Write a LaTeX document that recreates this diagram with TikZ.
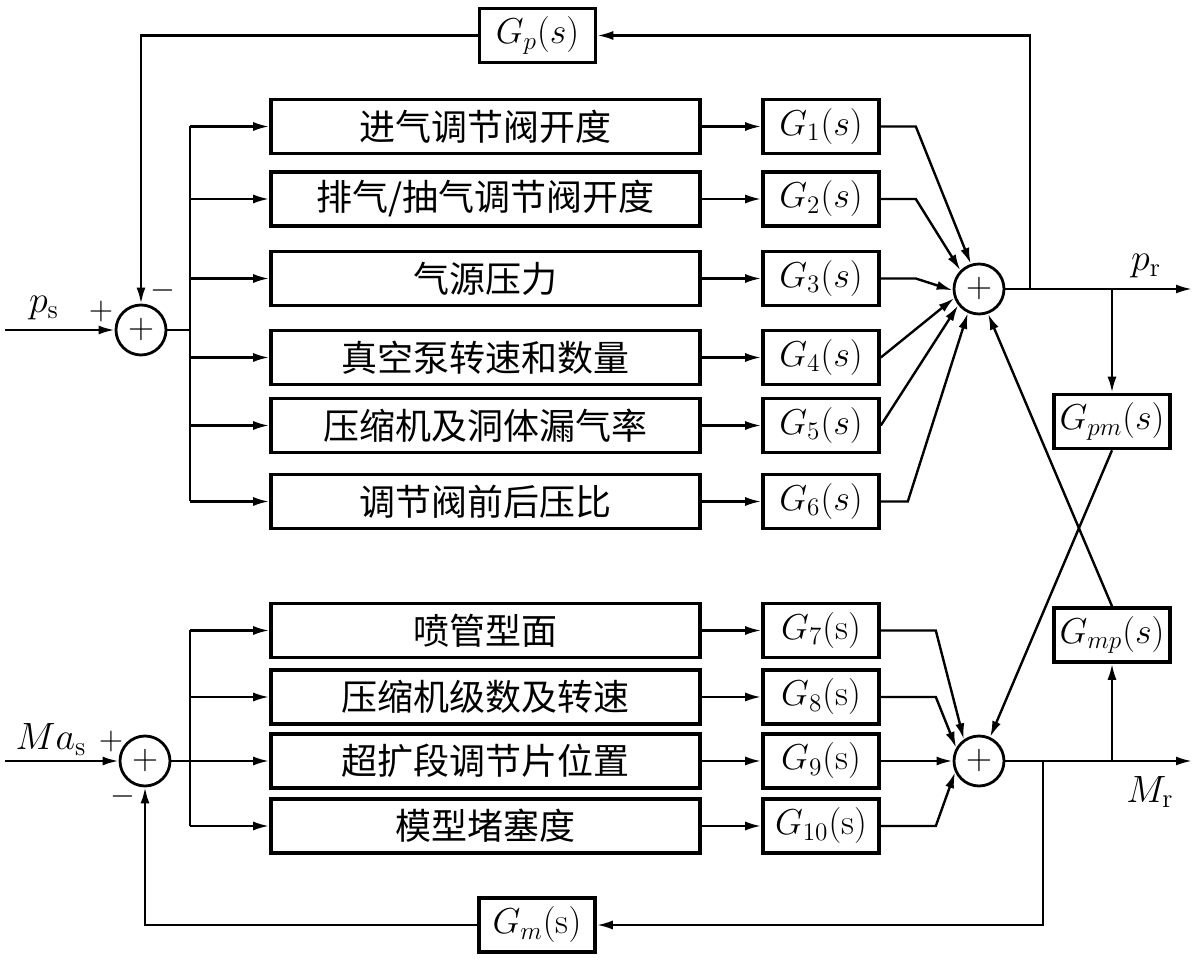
\RequirePackage{fix-cm}
\documentclass[tikz,border=0pt]{standalone}
\usepackage{fontspec}
\newfontfamily\cjk{Noto Sans CJK SC}
\usetikzlibrary{arrows.meta}
\begin{document}
\begin{tikzpicture}[x=0.5pt,y=-0.5pt,
  big/.style={draw,line width=1.8pt,minimum width=214.5pt,minimum height=27pt,inner sep=0pt,font=\cjk\fontsize{18}{20}\selectfont},
  gb/.style={draw,line width=1.8pt,minimum width=58pt,minimum height=27pt,inner sep=0pt,font=\fontsize{18}{20}\selectfont},
  sumn/.style={draw,circle,line width=1.4pt,minimum size=25pt,inner sep=0pt,font=\fontsize{18}{20}\selectfont},
  wire/.style={line width=1.2pt},
  arr/.style={wire,-{Latex[length=8pt,width=4.5pt]}},
  lbl/.style={font=\fontsize{19}{21}\selectfont,inner sep=0pt},
  sgn/.style={font=\fontsize{16}{18}\selectfont,inner sep=0pt}]
\useasboundingbox (0,0) rectangle (1200,961);

% summing junctions
\node[sumn] (s1) at (141,330) {$+$};
\node[sumn] (s2) at (979,289) {$+$};
\node[sumn] (s3) at (145,761) {$+$};
\node[sumn] (s4) at (979,761) {$+$};

% upper boxes
\node[big] (b1) at (485.5,126.5) {进气调节阀开度};
\node[big] (b2) at (485.5,199) {排气/抽气调节阀开度};
\node[big] (b3) at (485.5,278.5) {气源压力};
\node[big] (b4) at (485.5,357.5) {真空泵转速和数量};
\node[big] (b5) at (485.5,425.5) {压缩机及洞体漏气率};
\node[big] (b6) at (485.5,501.5) {调节阀前后压比};
\node[gb] (g1) at (821,126.5) {$G_1(s)$};
\node[gb] (g2) at (821,199) {$G_2(s)$};
\node[gb] (g3) at (821,278.5) {$G_3(s)$};
\node[gb] (g4) at (821,357.5) {$G_4(s)$};
\node[gb] (g5) at (821,425.5) {$G_5(s)$};
\node[gb] (g6) at (821,501.5) {$G_6(s)$};

% lower boxes
\node[big] (b7) at (485.5,630.5) {喷管型面};
\node[big] (b8) at (485.5,697) {压缩机级数及转速};
\node[big] (b9) at (485.5,761) {超扩段调节片位置};
\node[big] (b10) at (485.5,826) {模型堵塞度};
\node[gb] (g7) at (821,630.5) {$G_7(\mathrm{s})$};
\node[gb] (g8) at (821,697) {$G_8(\mathrm{s})$};
\node[gb] (g9) at (821,761) {$G_9(\mathrm{s})$};
\node[gb] (g10) at (821,826) {$G_{10}(\mathrm{s})$};

% feedback / cross boxes
\node[gb] (gp) at (537.5,35.5) {$G_p(s)$};
\node[gb] (gpm) at (1112,421.5) {$G_{pm}(s)$};
\node[gb] (gmp) at (1112,635) {$G_{mp}(s)$};
\node[gb] (gm) at (537,925) {$G_m(\mathrm{s})$};

% coordinates
\coordinate (busx) at (190,0);
\coordinate (pin) at (5,330);
\coordinate (min) at (5,761);
\coordinate (prend) at (1192,289);
\coordinate (mrend) at (1192,761);
\coordinate (j1) at (1030,289);
\coordinate (j2) at (1112,289);
\coordinate (j3) at (1043,761);
\coordinate (j4) at (1112,761);

% upper loop
\draw[arr] (pin) -- (s1.west);
\draw[wire] (s1.east) -- (s1.east -| busx);
\draw[wire] (b1.west -| busx) -- (b6.west -| busx);
\foreach \i in {1,...,6}{
  \draw[arr] (b\i.west -| busx) -- (b\i.west);
  \draw[arr] (b\i.east) -- (g\i.west);
}
\draw[arr] (g1.east) -- ++(35,0) -- (s2.108);
\draw[arr] (g2.east) -- ++(35,0) -- (s2.135);
\draw[arr] (g3.east) -- ++(35,0) -- (s2.183);
\draw[arr] (g4.east) -- (s2.200);
\draw[arr] (g5.east) -- (s2.218);
\draw[arr] (g6.east) -- ++(27,0) -- (s2.245);
\draw[arr] (s2.east) -- (prend);
\draw[arr] (j1) |- (gp.east);
\draw[arr] (gp.west) -| (s1.north);
\draw[arr] (j2) -- (gpm.north);

% lower loop
\draw[arr] (min) -- (s3.west);
\draw[arr] (s3.east) -- (b9.west);
\draw[wire] (b7.west -| busx) -- (b10.west -| busx);
\foreach \i in {7,8,10}{
  \draw[arr] (b\i.west -| busx) -- (b\i.west);
}
\foreach \i in {7,...,10}{
  \draw[arr] (b\i.east) -- (g\i.west);
}
\draw[arr] (g7.east) -- ++(55,0) -- (s4.125);
\draw[arr] (g8.east) -- ++(55,0) -- (s4.150);
\draw[arr] (g9.east) -- (s4.west);
\draw[arr] (g10.east) -- ++(55,0) -- (s4.205);
\draw[arr] (s4.east) -- (mrend);
\draw[arr] (j3) |- (gm.east);
\draw[arr] (gm.west) -| (s3.south);
\draw[arr] (j4) -- (gmp.south);

% cross couplings
\draw[arr] (gpm.south) -- (s4.65);
\draw[arr] (gmp.north) -- (s2.290);

% labels
\node[lbl] (lps) at (44,308) {$p_{\mathrm{s}}$};
\node[sgn] (lp1) at (101,312) {$+$};
\node[sgn] (lm1) at (163,291) {$-$};
\node[lbl] (lma) at (51,740) {$Ma_{\mathrm{s}}$};
\node[sgn] (lp2) at (111,742) {$+$};
\node[sgn] (lm2) at (123,797) {$-$};
\node[lbl] (lpr) at (1146,266) {$p_{\mathrm{r}}$};
\node[lbl] (lmr) at (1150,792) {$M_{\mathrm{r}}$};
\end{tikzpicture}
\end{document}
